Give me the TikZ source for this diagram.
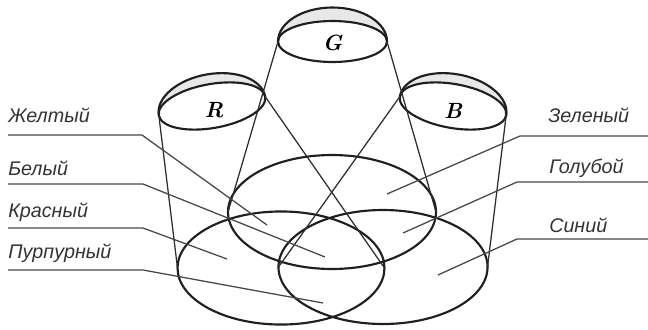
\documentclass[tikz,border=0pt]{standalone}
\usepackage{fontspec}
\newfontfamily\labelfont{Liberation Sans}
\begin{document}
\begin{tikzpicture}[x=0.75pt,y=-0.75pt,
  rim/.style={line width=1.6pt, draw=black!88},
  ray/.style={line width=0.95pt, draw=black!82},
  lead/.style={line width=0.95pt, draw=black!72},
  crescent/.style={fill=black!9},
  lbl/.style={font=\labelfont\itshape\fontsize{14.8}{16}\selectfont, text=black!80, inner sep=0pt, anchor=base west},
  lamplbl/.style={font=\bfseries\itshape\fontsize{16.5}{18}\selectfont, inner sep=0pt}]
\useasboundingbox (0,0) rectangle (648,329);

% ---- lamp G ----
\begin{scope}[shift={(332.5,41.5)}]
  \fill[crescent] (-54.5,0) arc[start angle=180,end angle=0,x radius=40.875pt,y radius=25.5pt]
                  arc[start angle=0,end angle=180,x radius=40.875pt,y radius=15.375pt] -- cycle;
  \draw[rim] (-54.5,0) arc[start angle=180,end angle=0,x radius=40.875pt,y radius=25.5pt];
  \draw[rim] (0,0) ellipse[x radius=40.875pt,y radius=15.375pt];
  \coordinate (GL) at (-54.5,0);
  \coordinate (GR) at (54.5,0);
  \node[lamplbl] (G) at (0,1) {G};
\end{scope}

% ---- lamp R ----
\begin{scope}[shift={(212,106)},rotate=10]
  \fill[crescent] (-54,0) arc[start angle=180,end angle=0,x radius=40.5pt,y radius=24pt]
                  arc[start angle=0,end angle=180,x radius=40.5pt,y radius=16.5pt] -- cycle;
  \draw[rim] (-54,0) arc[start angle=180,end angle=0,x radius=40.5pt,y radius=24pt];
  \draw[rim] (0,0) ellipse[x radius=40.5pt,y radius=16.5pt];
  \coordinate (RL) at (-54,0);
  \coordinate (RR) at (54,0);
\end{scope}
\node[lamplbl] (R) at (214,110) {R};

% ---- lamp B ----
\begin{scope}[shift={(453,106)},rotate=-10]
  \fill[crescent] (-54,0) arc[start angle=180,end angle=0,x radius=40.5pt,y radius=24pt]
                  arc[start angle=0,end angle=180,x radius=40.5pt,y radius=16.5pt] -- cycle;
  \draw[rim] (-54,0) arc[start angle=180,end angle=0,x radius=40.5pt,y radius=24pt];
  \draw[rim] (0,0) ellipse[x radius=40.5pt,y radius=16.5pt];
  \coordinate (BL) at (-54,0);
  \coordinate (BR) at (54,0);
\end{scope}
\node[lamplbl] (B) at (453,111) {B};

% ---- light spots ----
\draw[rim] (332,212) ellipse[x radius=78pt,y radius=42.75pt];
\draw[rim] (281,268) ellipse[x radius=77.6pt,y radius=42.4pt];
\draw[rim] (383,267) ellipse[x radius=78.4pt,y radius=42.75pt];
\coordinate (gl) at (228,212);
\coordinate (gr) at (436,212);
\coordinate (rl) at (177.5,268);
\coordinate (rr) at (384.5,268);
\coordinate (bl) at (278.5,267);
\coordinate (br) at (487.5,267);

% ---- cones ----
\draw[ray] (GL) -- (gl);
\draw[ray] (GR) -- (gr);
\draw[ray] (RL) -- (rl);
\draw[ray] (RR) -- (rr);
\draw[ray] (BL) -- (bl);
\draw[ray] (BR) -- (br);

% ---- labels ----
\node[lbl] (ly) at (8,122) {Желтый};
\node[lbl] (lw) at (8,175) {Белый};
\node[lbl] (lr) at (8,217) {Красный};
\node[lbl] (lm) at (8,258) {Пурпурный};
\node[lbl] (lg) at (548,122) {Зеленый};
\node[lbl] (lc) at (549,173) {Голубой};
\node[lbl] (lb) at (549,232) {Синий};

\coordinate (y0) at (8,135);   \coordinate (y1) at (142,135); \coordinate (y2) at (267,225);
\coordinate (w0) at (8,184);   \coordinate (w1) at (143,184); \coordinate (w2) at (325,257);
\coordinate (r0) at (8,228);   \coordinate (r1) at (143,228); \coordinate (r2) at (227,259);
\coordinate (m0) at (8,270);   \coordinate (m1) at (143,270); \coordinate (m2) at (323,303);
\coordinate (g0) at (648,136); \coordinate (g1) at (520,136); \coordinate (g2) at (387,194);
\coordinate (c0) at (648,182); \coordinate (c1) at (517,182); \coordinate (c2) at (403,233);
\coordinate (b0) at (648,239); \coordinate (b1) at (517,239); \coordinate (b2) at (438,275);

\draw[lead] (y0) -- (y1) -- (y2);
\draw[lead] (w0) -- (w1) -- (w2);
\draw[lead] (r0) -- (r1) -- (r2);
\draw[lead] (m0) -- (m1) -- (m2);
\draw[lead] (g0) -- (g1) -- (g2);
\draw[lead] (c0) -- (c1) -- (c2);
\draw[lead] (b0) -- (b1) -- (b2);
\end{tikzpicture}
\end{document}
